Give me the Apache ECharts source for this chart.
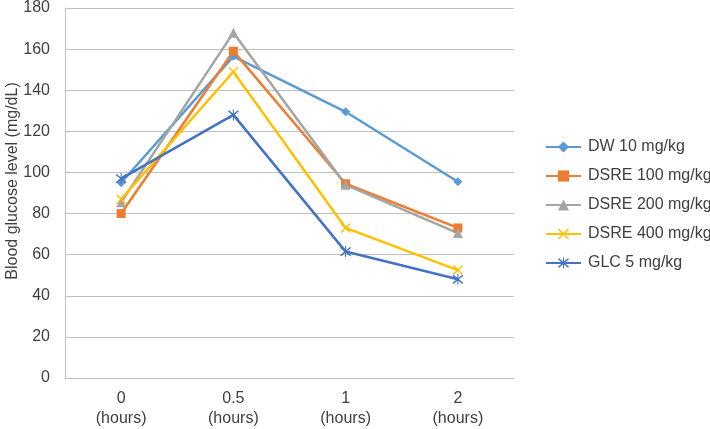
<!DOCTYPE html>
<html><head><meta charset="utf-8">
<script src="https://cdn.jsdelivr.net/npm/echarts@6/dist/echarts.min.js"></script>
<style>html,body{margin:0;padding:0;background:#fff}#c{width:710px;height:429px}</style>
</head><body><div id="c"></div>
<script>
var categories = ['0\n(hours)', '0.5\n(hours)', '1\n(hours)', '2\n(hours)'];
var seriesNames = ['DW 10 mg/kg', 'DSRE 100 mg/kg', 'DSRE 200 mg/kg', 'DSRE 400 mg/kg', 'GLC 5 mg/kg'];
var dw10 = [95, 156.5, 129.5, 95.5];
var dsre100 = [80, 159, 94.5, 73];
var dsre200 = [85.5, 168, 94, 70.5];
var dsre400 = [87, 149, 73, 52.5];
var glc5 = [97, 128, 61.5, 48];
var yTicks = {min: 0, max: 180, interval: 20};
var yTitle = 'Blood glucose level (mg/dL)';

var FONT = 'Liberation Sans, Arial, sans-serif';
var colors = ['#5B9BD5', '#ED7D31', '#A5A5A5', '#FFC000', '#4472C4'];
var crossPath = 'path://M0,1L1,0L5,4L9,0L10,1L6,5L10,9L9,10L5,6L1,10L0,9L4,5Z';
var starPath = 'path://M0,1L1,0L5,4L9,0L10,1L6,5L10,9L9,10L5,6L1,10L0,9L4,5Z M4.5,-1L5.5,-1L5.5,11L4.5,11Z';
var symbols = ['diamond', 'rect', 'triangle', crossPath, starPath];
var sizes = [9, 9, 10, 10, 11];
var datas = [dw10, dsre100, dsre200, dsre400, glc5];

var series = seriesNames.map(function (n, i) {
  return {
    name: n, type: 'line', data: datas[i], symbol: symbols[i], symbolSize: sizes[i],
    showAllSymbol: true,
    lineStyle: {color: colors[i], width: 2.5},
    itemStyle: {color: colors[i]}
  };
});

var chart = echarts.init(document.getElementById('c'));
chart.setOption({
  animation: false,
  textStyle: {fontFamily: FONT},
  grid: {left: 65, right: 196, top: 6, bottom: 50},
  legend: {
    orient: 'vertical', left: 540, top: 134,
    itemWidth: 35, itemHeight: 14, itemGap: 13,
    textStyle: {fontSize: 16, color: '#404040', fontFamily: FONT, padding: [0, 0, 0, 2]},
    data: seriesNames
  },
  graphic: [{
    type: 'text', x: 13, y: 181, rotation: Math.PI / 2,
    style: {text: yTitle, fill: '#404040', font: '16px ' + FONT, align: 'center', verticalAlign: 'middle'}
  }],
  xAxis: {
    type: 'category', data: categories, boundaryGap: true,
    axisLine: {lineStyle: {color: '#bfbfbf', width: 1}},
    axisTick: {show: false},
    axisLabel: {color: '#404040', fontSize: 16, margin: 11, lineHeight: 20}
  },
  yAxis: {
    type: 'value', min: yTicks.min, max: yTicks.max, interval: yTicks.interval,
    axisLine: {show: true, lineStyle: {color: '#bfbfbf', width: 1}},
    axisTick: {show: false},
    axisLabel: {color: '#404040', fontSize: 16, margin: 15},
    splitLine: {lineStyle: {color: '#bfbfbf', width: 1}}
  },
  series: series
});
</script></body></html>
